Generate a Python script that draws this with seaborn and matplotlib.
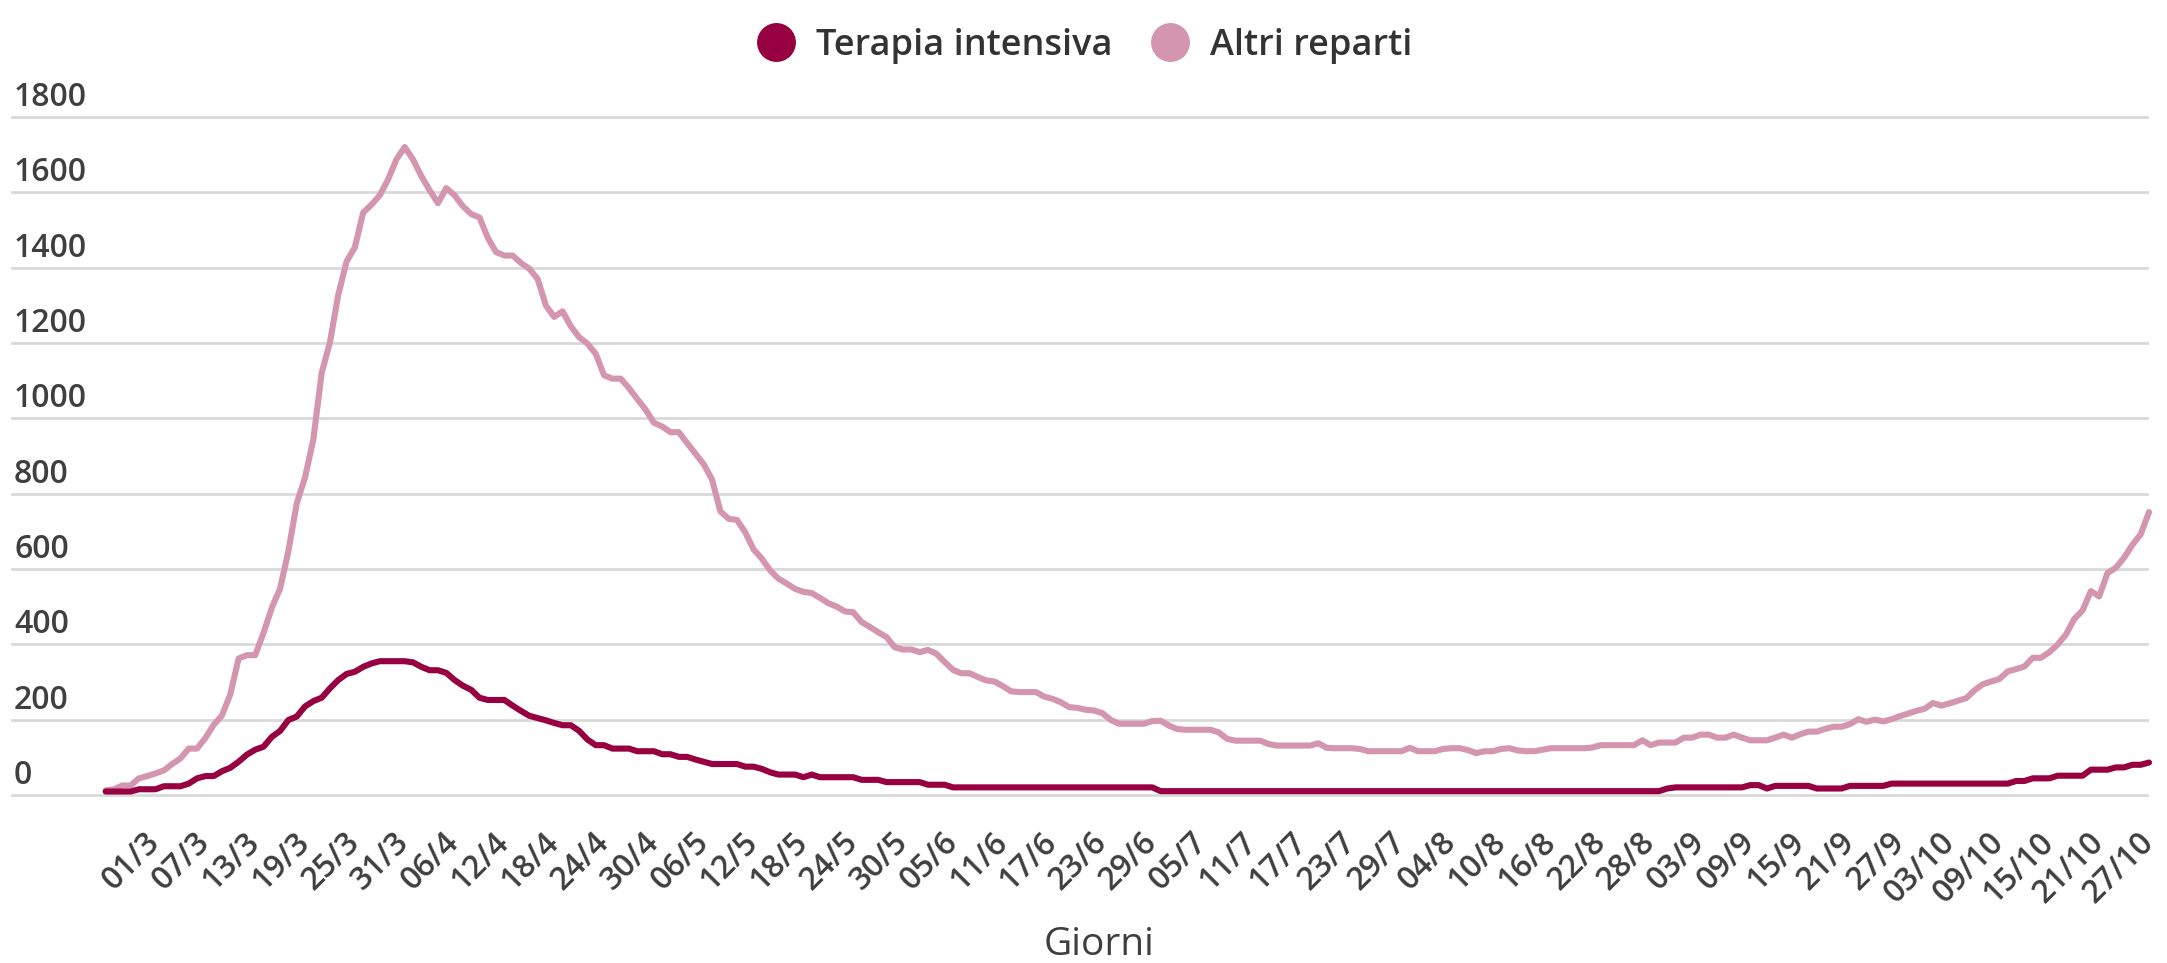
import numpy as np
import pandas as pd
import matplotlib.pyplot as plt
import seaborn as sns
from matplotlib.lines import Line2D

# --- data: daily patients, 24/2 -> 27/10 ---
giorni = pd.date_range('2020-02-24', '2020-10-27', freq='D')

terapia_intensiva = [
    9, 9, 9, 9, 15, 15, 15, 23, 23, 23,
    30, 44, 50, 50, 63, 72, 88, 107, 120, 128,
    154, 170, 199, 208, 235, 249, 258, 283, 305, 321,
    327, 340, 349, 355, 355, 355, 355, 352, 340, 331,
    331, 324, 305, 290, 279, 258, 252, 252, 252, 237,
    223, 210, 204, 198, 191, 185, 185, 170, 147, 132,
    132, 123, 123, 123, 116, 116, 116, 108, 108, 101,
    101, 94, 88, 82, 82, 82, 82, 75, 75, 69,
    60, 54, 54, 54, 47, 54, 47, 47, 47, 47,
    47, 40, 40, 40, 34, 34, 34, 34, 34, 27,
    27, 27, 20, 20, 20, 20, 20, 20, 20, 20,
    20, 20, 20, 20, 20, 20, 20, 20, 20, 20,
    20, 20, 20, 20, 20, 20, 20, 10, 10, 10,
    10, 10, 10, 10, 10, 10, 10, 10, 10, 10,
    10, 10, 10, 10, 10, 10, 10, 10, 10, 10,
    10, 10, 10, 10, 10, 10, 10, 10, 10, 10,
    10, 10, 10, 10, 10, 10, 10, 10, 10, 10,
    10, 10, 10, 10, 10, 10, 10, 10, 10, 10,
    10, 10, 10, 10, 10, 10, 10, 10, 17, 20,
    20, 20, 20, 20, 20, 20, 20, 20, 26, 26,
    17, 24, 24, 24, 24, 24, 17, 17, 17, 17,
    24, 24, 24, 24, 24, 30, 30, 30, 30, 30,
    30, 30, 30, 30, 30, 30, 30, 30, 30, 30,
    37, 37, 44, 44, 44, 51, 51, 51, 51, 67,
    67, 67, 73, 73, 80, 80, 86,
]

altri_reparti = [
    12, 15, 25, 25, 44, 50, 57, 65, 82, 97,
    123, 123, 151, 186, 211, 267, 362, 371, 371, 430,
    497, 548, 648, 774, 843, 944, 1120, 1202, 1328, 1416,
    1454, 1546, 1567, 1592, 1634, 1687, 1720, 1687, 1643, 1605,
    1571, 1611, 1592, 1563, 1542, 1533, 1479, 1441, 1432, 1432,
    1412, 1397, 1370, 1299, 1269, 1284, 1244, 1215, 1198, 1171,
    1114, 1105, 1105, 1080, 1051, 1023, 988, 978, 963, 963,
    934, 906, 878, 837, 753, 733, 730, 697, 652, 627,
    596, 574, 561, 547, 539, 536, 523, 509, 500, 487,
    485, 459, 446, 432, 419, 392, 386, 386, 379, 385,
    375, 353, 332, 323, 323, 313, 304, 301, 289, 275,
    273, 273, 273, 261, 255, 246, 233, 231, 226, 224,
    217, 199, 189, 189, 189, 189, 196, 197, 184, 175,
    173, 173, 173, 173, 166, 149, 144, 144, 144, 144,
    135, 131, 131, 131, 131, 131, 137, 125, 124, 124,
    124, 122, 116, 116, 116, 116, 116, 125, 116, 116,
    116, 122, 124, 124, 119, 111, 116, 116, 122, 124,
    118, 116, 116, 120, 124, 124, 124, 124, 124, 126,
    132, 132, 132, 132, 132, 145, 132, 139, 139, 139,
    152, 152, 160, 160, 152, 152, 160, 152, 145, 145,
    145, 152, 160, 152, 161, 168, 168, 175, 181, 181,
    188, 201, 194, 200, 195, 201, 209, 216, 223, 229,
    244, 237, 243, 250, 257, 278, 294, 301, 308, 328,
    334, 341, 364, 364, 379, 399, 426, 467, 490, 541,
    527, 589, 603, 630, 664, 692, 751,
]

serie = ['Terapia intensiva', 'Altri reparti']
colori = {'Terapia intensiva': '#970041', 'Altri reparti': '#d496ae'}
y_ticks = list(range(0, 1801, 200))

df = pd.DataFrame({
    'giorno': np.arange(len(giorni)),
    'Terapia intensiva': terapia_intensiva,
    'Altri reparti': altri_reparti,
})
long_df = df.melt(id_vars='giorno', var_name='serie', value_name='pazienti')

sns.set_style('white')
plt.rcParams['font.family'] = ['Open Sans', 'DejaVu Sans']
testo = '#3f3f3f'

fig = plt.figure(figsize=(21.67, 9.63), dpi=100)
ax = fig.add_axes([0.00508, 0.1589, 0.98662, 0.7373])

# pink first so the dark line sits on top
sns.lineplot(data=long_df, x='giorno', y='pazienti', hue='serie',
             hue_order=['Altri reparti', 'Terapia intensiva'], palette=colori,
             linewidth=4.4, legend=False, ax=ax, clip_on=False)

ax.set_xlim(-11.4, 245.4)
ax.set_ylim(-40, 1845)
ax.set_yticks(y_ticks)
ax.grid(axis='y', color='#d9d9d9', linewidth=2)
ax.tick_params(axis='y', left=False, labelleft=False)
for s in ax.spines.values():
    s.set_visible(False)

# y labels sit above the gridlines, at the left
for v in y_ticks:
    ax.annotate(str(v), xy=(0, v), xycoords=('axes fraction', 'data'),
                xytext=(3, 3), textcoords='offset pixels',
                ha='left', va='bottom', fontsize=23, fontweight='semibold', color=testo)

xt = np.arange(6, len(giorni), 6)
ax.set_xticks(xt)
ax.set_xticklabels([f'{giorni[i].day:02d}/{giorni[i].month}' for i in xt],
                   rotation=45, ha='right', va='center', rotation_mode='anchor',
                   fontsize=23, fontweight='semibold', color=testo)
ax.tick_params(axis='x', bottom=False, pad=16)
ax.set_xlabel('')
ax.set_ylabel('')

fig.text(1099 / 2167, 1 - 945 / 963, 'Giorni', ha='center', va='center',
         fontsize=28, color=testo)

handles = [Line2D([], [], linestyle='none', marker='o', markersize=27,
                  markerfacecolor=colori[s], markeredgecolor=colori[s]) for s in serie]
fig.legend(handles, serie, loc='center', bbox_to_anchor=(0.5, 1 - 46 / 963),
           ncol=2, frameon=False, labelcolor='#333333',
           prop={'weight': 'semibold', 'size': 26},
           handlelength=1.2, handletextpad=0.5, columnspacing=1.0)

fig.savefig('out.png', dpi=100)
